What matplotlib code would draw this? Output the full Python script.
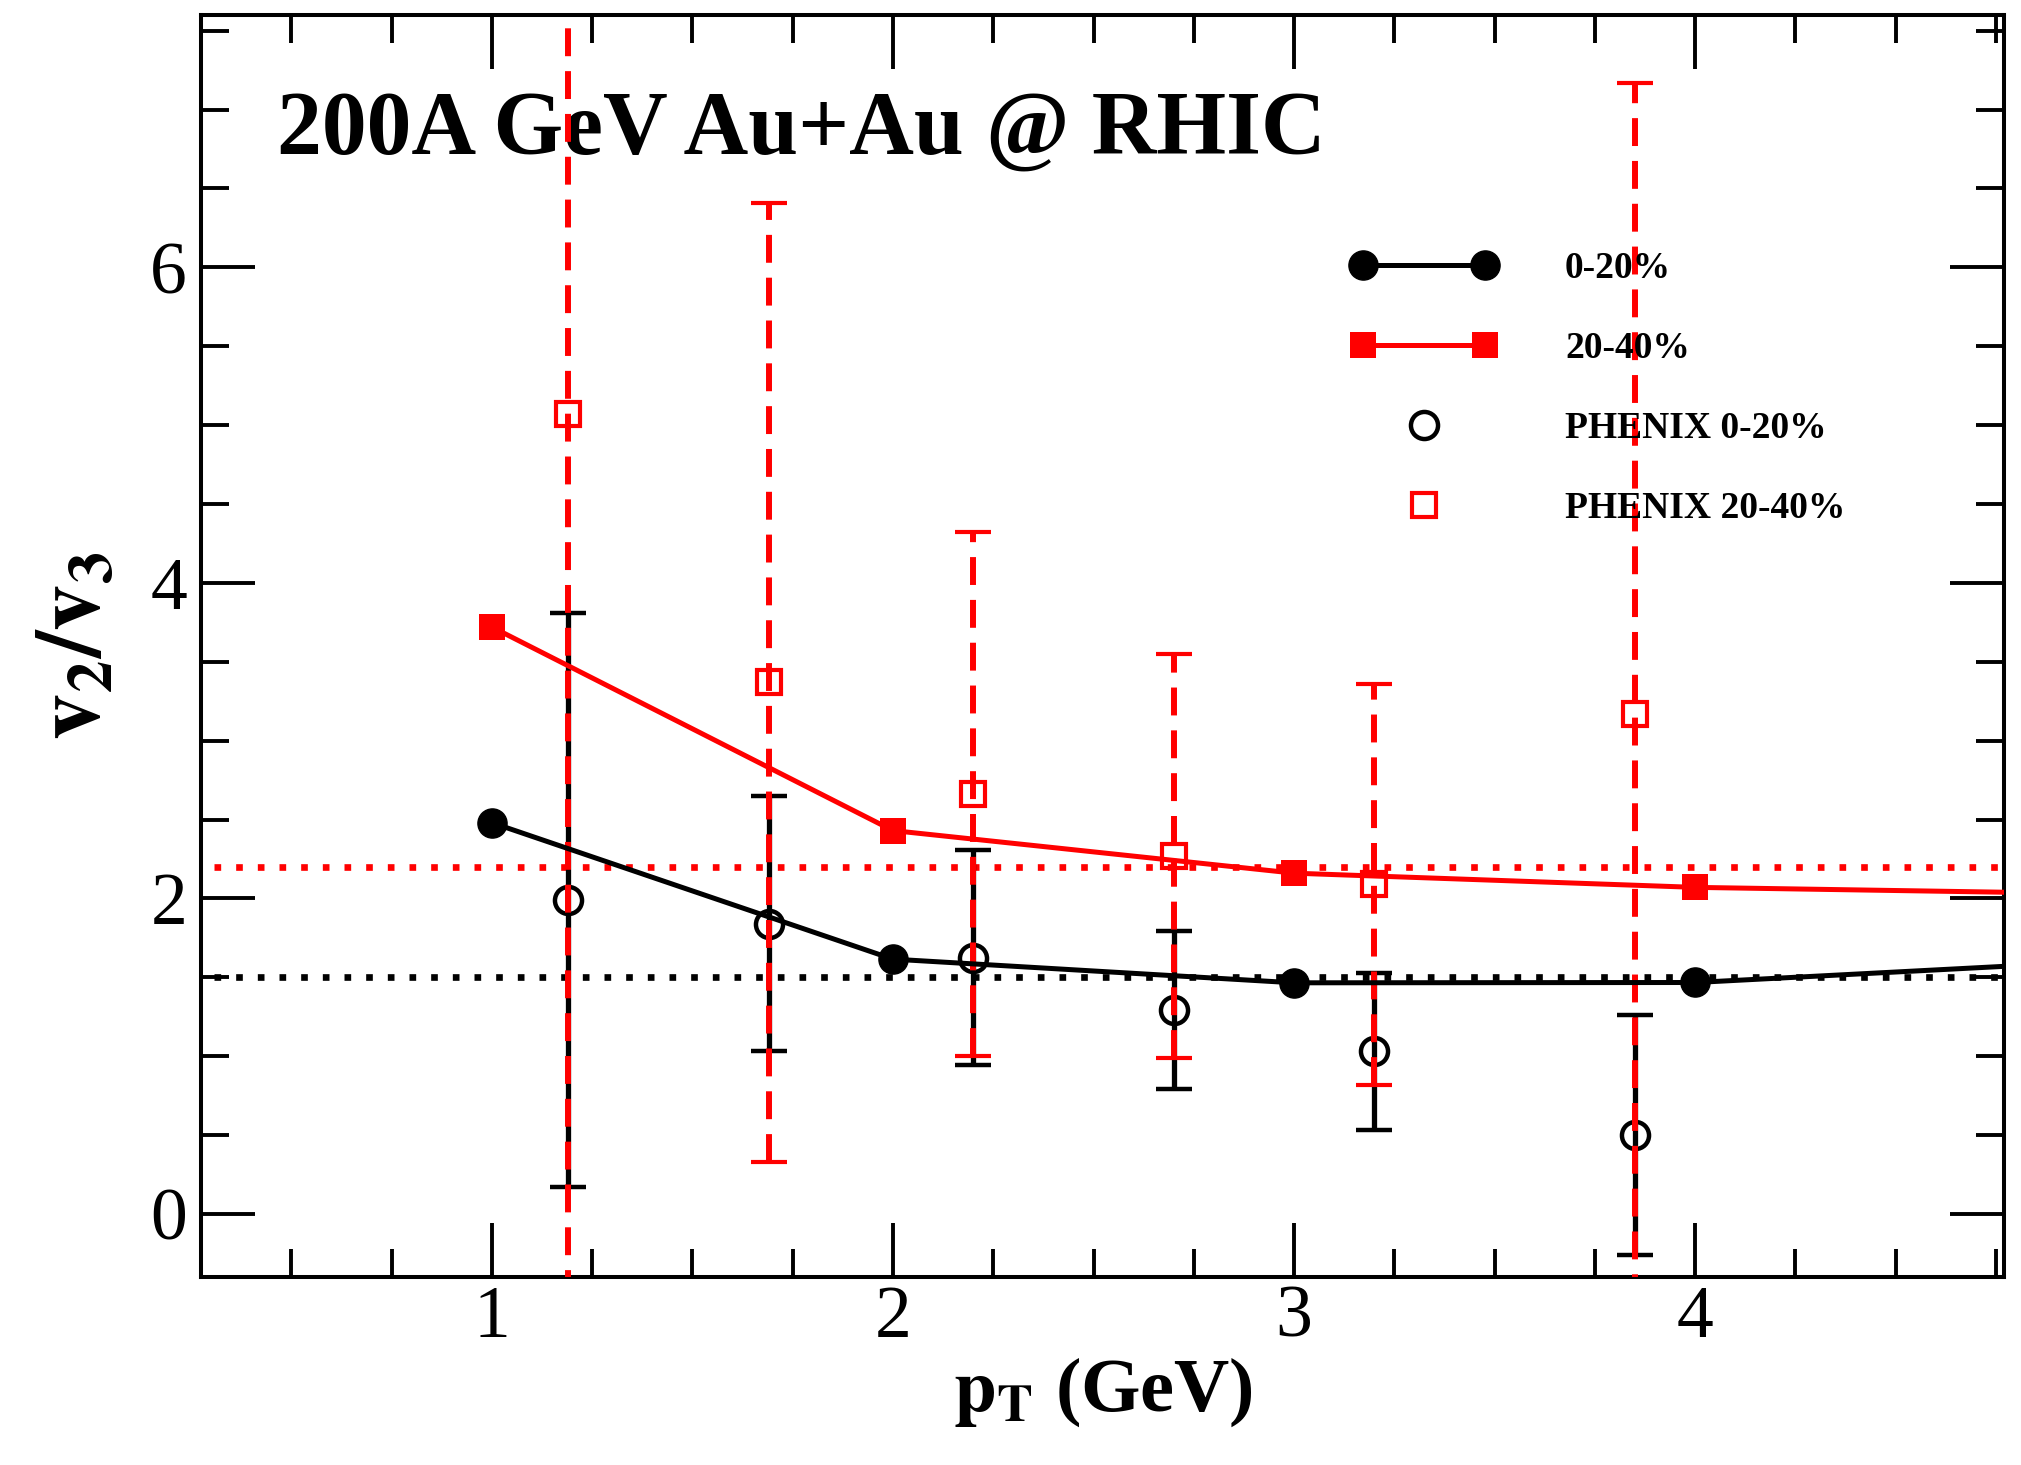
import matplotlib
matplotlib.use("Agg")
import matplotlib.pyplot as plt
from matplotlib.legend_handler import HandlerLine2D
from matplotlib.ticker import MultipleLocator

plt.rcParams["font.family"] = ["Liberation Serif", "DejaVu Serif"]
plt.rcParams["mathtext.fontset"] = "stix"

# model curves (v2/v3 vs pT)
pt_model = [1.0, 2.0, 3.0, 4.0, 5.0]
model_0_20 = [2.48, 1.615, 1.465, 1.467, 1.60]
model_20_40 = [3.72, 2.43, 2.16, 2.07, 2.03]

# PHENIX data points
pt_phenix = [1.19, 1.69, 2.20, 2.70, 3.20, 3.85]
phenix_0_20 = [1.99, 1.84, 1.625, 1.295, 1.03, 0.50]
phenix_0_20_err = [1.82, 0.81, 0.68, 0.50, 0.50, 0.76]
phenix_20_40 = [5.07, 3.37, 2.66, 2.27, 2.09, 3.17]
phenix_20_40_err = [5.6, 3.04, 1.66, 1.28, 1.27, 4.0]

# reference levels
ref_0_20 = 1.5
ref_20_40 = 2.2

fig = plt.figure(figsize=(20.21, 14.65), dpi=100)
ax = fig.add_axes([0.0995, 0.1283, 0.8921, 0.8615])

ax.axhline(ref_20_40, color="red", lw=4.8, ls=(1.3, (1, 2.25)), zorder=1)
ax.axhline(ref_0_20, color="black", lw=4.8, ls=(1.3, (1, 2.25)), zorder=1)

eb_k = ax.errorbar(pt_phenix, phenix_0_20, yerr=phenix_0_20_err, fmt="o", ms=19.5,
                   mfc="none", mec="black", mew=3.2, ecolor="black", elinewidth=3.8,
                   capsize=13.3, capthick=3.6, zorder=3)
eb_r = ax.errorbar(pt_phenix, phenix_20_40, yerr=phenix_20_40_err, fmt="s", ms=17,
                   mfc="none", mec="red", mew=3.0, ecolor="red", elinewidth=4.3,
                   capsize=13.3, capthick=3.6, zorder=4)
eb_r[2][0].set_linestyle((0, (4.67, 2.5)))

l_k, = ax.plot(pt_model, model_0_20, "-o", color="black", lw=3.6, ms=21, zorder=5)
l_r, = ax.plot(pt_model, model_20_40, "-s", color="red", lw=3.6, ms=19, mew=0, zorder=5)

ax.set_xlim(0.275, 4.77)
ax.set_ylim(-0.4, 7.6)
ax.xaxis.set_major_locator(MultipleLocator(1))
ax.xaxis.set_minor_locator(MultipleLocator(0.25))
ax.yaxis.set_major_locator(MultipleLocator(2))
ax.yaxis.set_minor_locator(MultipleLocator(0.5))
ax.tick_params(which="both", direction="in", top=True, right=True, width=2.8)
ax.tick_params(which="major", length=39, labelsize=53)
ax.tick_params(which="minor", length=20)
ax.tick_params(axis="x", which="major", pad=6)
ax.tick_params(axis="y", which="major", pad=10)
for s in ax.spines.values():
    s.set_linewidth(2.9)

ax.set_xlabel(r"$\mathbf{p_T}$ (GeV)", fontsize=55, fontweight="bold", labelpad=2)
ax.set_ylabel(r"$\mathbf{v_2/v_3}$", fontsize=66, fontweight="bold", labelpad=22)

ax.text(0.042, 0.890, "200A GeV Au+Au @ RHIC", transform=ax.transAxes,
        fontsize=64.5, fontweight="bold", va="baseline", ha="left")

h1 = eb_k[0]
h2 = eb_r[0]
ax.legend([l_k, l_r, h1, h2], ["0-20%", "20-40%", "PHENIX 0-20%", "PHENIX 20-40%"],
          loc="upper left", bbox_to_anchor=(0.638, 0.813), frameon=False, numpoints=2,
          handlelength=3.86, handletextpad=1.84, labelspacing=1.2, borderpad=0,
          borderaxespad=0, prop={"size": 27, "weight": "bold"},
          handler_map={h1: HandlerLine2D(numpoints=1), h2: HandlerLine2D(numpoints=1)})

fig.savefig("out.png", dpi=100)
